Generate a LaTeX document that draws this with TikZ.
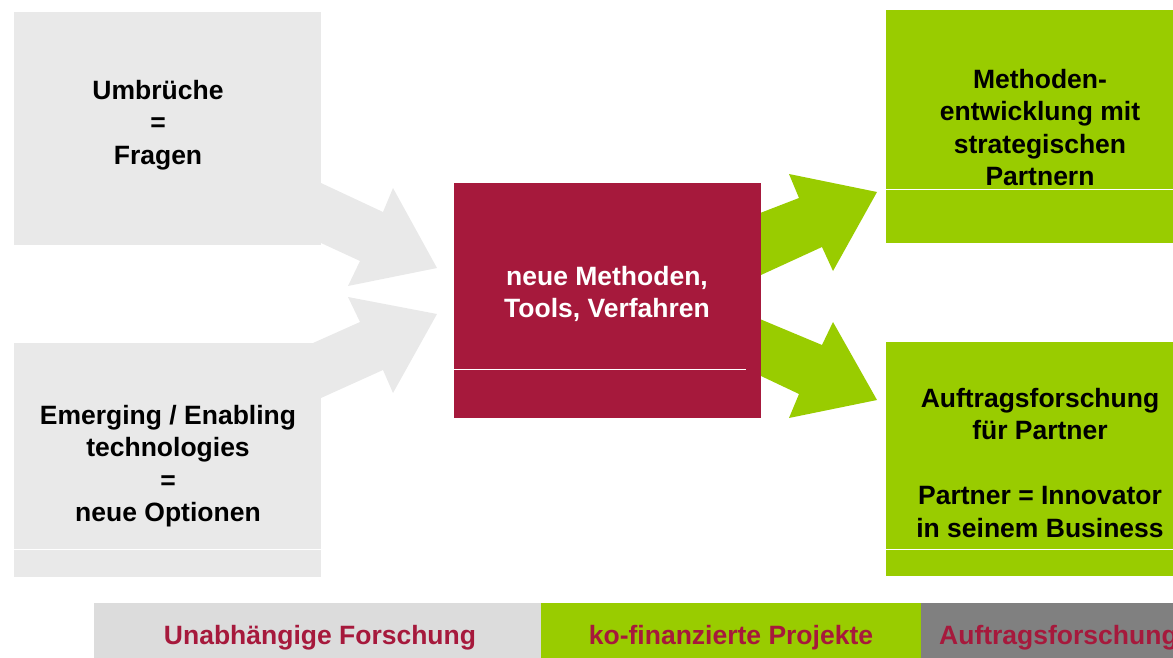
\documentclass[tikz,border=0pt]{standalone}
\usepackage{fontspec}
\setmainfont{Liberation Sans}
\definecolor{crimson}{HTML}{A6193C}
\definecolor{lime}{HTML}{99CC00}
\definecolor{paleGray}{HTML}{E9E9E9}
\definecolor{barGray}{HTML}{DCDCDC}
\definecolor{midGray}{HTML}{808080}
\begin{document}
\begin{tikzpicture}[x=1pt,y=-1pt,
  panel/.style={rectangle, inner sep=0pt, outer sep=0pt, draw=none},
  label/.style={align=center, inner sep=0pt, font=\bfseries\fontsize{26.5}{32.5}\selectfont},
  bartext/.style={inner sep=0pt, text=crimson, font=\bfseries\fontsize{26.5}{32.5}\selectfont},
  divider/.style={draw=white, line width=1.2pt}]
\useasboundingbox (0,0) rectangle (1173,658);
\clip (0,0) rectangle (1173,658);

% input arrows (grey)
\fill[paleGray] (300,183) -- (321,183) -- (383,212) -- (393,188) -- (437,268)
  -- (348,286) -- (360,261) -- (321,243) -- (300,243) -- cycle;
\fill[paleGray] (300,343) -- (313,343) -- (360,322) -- (348,297) -- (437,314)
  -- (393,393) -- (383,370) -- (321,398) -- (300,398) -- cycle;

% output arrows (green)
\fill[lime] (755,215) -- (799,198) -- (789,174) -- (877,192) -- (833,271)
  -- (822,247) -- (761,275) -- (755,275) -- cycle;
\fill[lime] (755,317) -- (822,345) -- (833,322) -- (877,400) -- (789,418)
  -- (799,394) -- (761,376) -- (755,376) -- cycle;

% panels
\node[panel, fill=paleGray, minimum width=307pt, minimum height=233pt] (quest) at (167.5,128.5) {};
\node[panel, fill=paleGray, minimum width=307pt, minimum height=234pt] (tech) at (167.5,460) {};
\node[panel, fill=crimson, minimum width=307pt, minimum height=235pt] (core) at (607.5,300.5) {};
\node[panel, fill=lime, minimum width=287pt, minimum height=233pt] (partner) at (1029.5,126.5) {};
\node[panel, fill=lime, minimum width=287pt, minimum height=234pt] (contract) at (1029.5,459) {};

% thin dividers inside the panels
\draw[divider] (tech.west |- 0,549.5) -- (tech.east |- 0,549.5);
\draw[divider] (core.west |- 0,369.5) -- (746,369.5);
\draw[divider] (partner.west |- 0,189.5) -- (partner.east |- 0,189.5);
\draw[divider] (contract.west |- 0,549.5) -- (contract.east |- 0,549.5);

% panel texts
\node[label] (questT) at (158,125) {Umbrüche\\=\\Fragen};
\node[label] (techT) at (168,466) {Emerging / Enabling\\technologies\\=\\neue Optionen};
\node[label, text=white] (coreT) at (607,294) {neue Methoden,\\Tools, Verfahren};
\node[label] (partnerT) at (1040,127.5) {Methoden-\\entwicklung mit\\strategischen\\Partnern};
\node[label] (contractT) at (1040,463) {Auftragsforschung\\für Partner\\[32.5pt]Partner = Innovator\\in seinem Business};

% bottom bar
\node[panel, fill=barGray, minimum width=447pt, minimum height=55pt] (barA) at (317.5,630.5) {};
\node[panel, fill=lime, minimum width=380pt, minimum height=55pt] (barB) at (731,630.5) {};
\node[panel, fill=midGray, minimum width=260pt, minimum height=55pt] (barC) at (1051,630.5) {};
\node[bartext] (barAT) at (320,638) {Unabhängige Forschung};
\node[bartext] (barBT) at (731,638) {ko-finanzierte Projekte};
\node[bartext, anchor=west] (barCT) at (939,638) {Auftragsforschung};
\end{tikzpicture}
\end{document}
